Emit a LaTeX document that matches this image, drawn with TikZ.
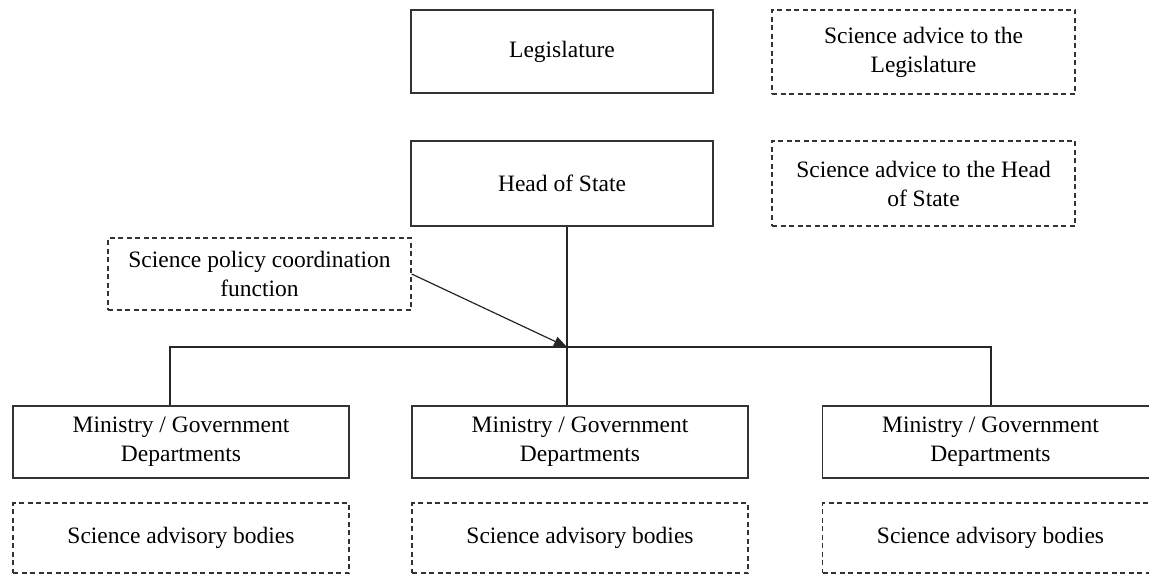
\documentclass[tikz,border=0pt]{standalone}
\usepackage{fontspec}
\setmainfont{Liberation Serif}
\usetikzlibrary{arrows.meta}

\tikzset{
  orgbox/.style={draw=black!80, line width=1.3pt, align=center, inner sep=0pt,
    font=\fontsize{23.5}{29}\selectfont},
  advbox/.style={orgbox, dash pattern=on 5pt off 3.5pt},
  link/.style={draw=black!85, line width=1.2pt},
}

\begin{document}
\begin{tikzpicture}[x=1pt, y=-1pt]
  \useasboundingbox (0,0) rectangle (1149,575);
  \clip (0,0) rectangle (1149,575);

  % --- top row: legislature and its advice ---
  \node[orgbox, minimum width=302pt, minimum height=83pt] (leg) at (562,51.5) {Legislature};
  \node[advbox, minimum width=303pt, minimum height=84pt] (legadv) at (923.5,52) {Science advice to the\\Legislature};

  % --- head of state and its advice ---
  \node[orgbox, minimum width=302pt, minimum height=85pt] (hos) at (562,183.5) {Head of State};
  \node[advbox, minimum width=303pt, minimum height=85pt] (hosadv) at (923.5,183.5) {Science advice to the Head\\of State};

  % --- coordination function (left, dashed) ---
  \node[advbox, minimum width=303pt, minimum height=72pt] (coord) at (259.5,274) {Science policy coordination\\function};

  % --- ministries + their advisory bodies (third pair runs off the page edge) ---
  \foreach \i/\x in {1/181,2/580,3/990.5} {
    \node[orgbox, minimum width=336pt, minimum height=72pt] (min\i) at (\x,442) {Ministry / Government\\Departments};
    \node[advbox, minimum width=336pt, minimum height=70pt] (adv\i) at (\x,538) {Science advisory bodies};
  }

  % === branch lines ===
  \coordinate (jc) at (567,347);
  \coordinate (jl) at (170,347);
  \coordinate (jr) at (991,347);
  \draw[link] (hos.south -| jc) -- (min2.north -| jc);
  \draw[link] (jl |- min1.north) -- (jl) -- (jr) -- (jr |- min3.north);

  % coordination arrow into the junction
  \draw[link, -{Triangle[length=13pt,width=10pt]}] (coord.east) -- (jc);
\end{tikzpicture}
\end{document}
